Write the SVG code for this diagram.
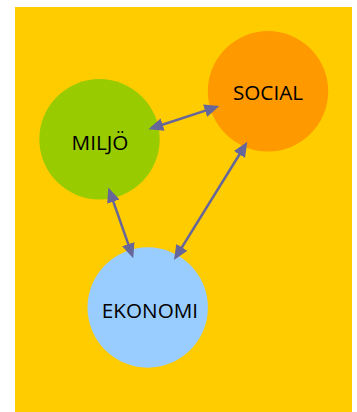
<svg xmlns="http://www.w3.org/2000/svg" width="357" height="412" viewBox="0 0 357 412">
<style>
.lbl{font-family:"Open Sans","Liberation Sans",sans-serif;font-size:20.7px;fill:#000;text-anchor:middle}
.conn{stroke:#666699;stroke-width:2.5;fill:none;marker-start:url(#ah);marker-end:url(#ah)}
</style>
<defs>
<marker id="ah" viewBox="0 0 15 13" refX="10" refY="6.5" markerWidth="15" markerHeight="13" markerUnits="userSpaceOnUse" orient="auto-start-reverse">
<path d="M0,0 L15,6.5 L0,13 z" fill="#666699"/>
</marker>
</defs>
<rect x="15" y="7" width="337" height="405" fill="#FFCC00"/>
<g id="miljo">
<circle cx="99.5" cy="139.3" r="60.2" fill="#99CC00"/>
<text class="lbl" x="100" y="150">MILJÖ</text>
</g>
<g id="social">
<circle cx="268" cy="91.3" r="60.2" fill="#FF9900"/>
<text class="lbl" x="268" y="100">SOCIAL</text>
</g>
<g id="ekonomi">
<circle cx="147.7" cy="307.5" r="60.2" fill="#99CCFF"/>
<text class="lbl" x="150" y="318.3">EKONOMI</text>
</g>
<g id="connectors">
<line class="conn" x1="153.1" y1="127.7" x2="214.6" y2="107.6"/>
<line class="conn" x1="110.0" y1="192.2" x2="131.6" y2="253.6"/>
<line class="conn" x1="244.7" y1="146.0" x2="176.6" y2="255.8"/>
</g>
</svg>
